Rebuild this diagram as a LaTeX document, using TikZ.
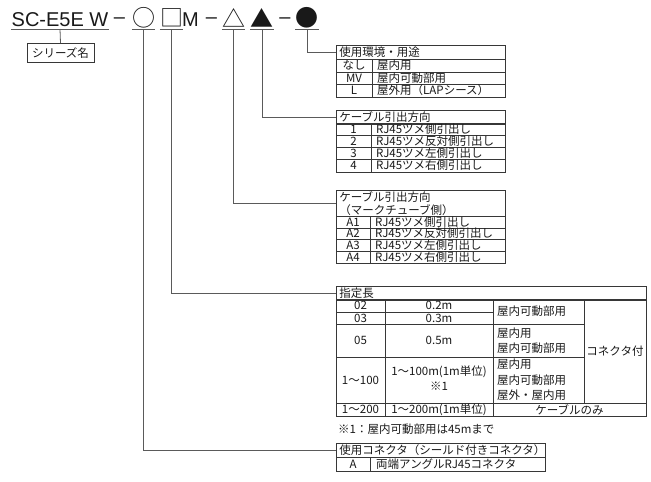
\documentclass[tikz,border=0pt]{standalone}
\usepackage{fontspec}
\setmainfont{Liberation Sans}
\newfontfamily\jpfont{Noto Sans CJK JP}
\usetikzlibrary{positioning, calc}

\definecolor{linegray}{RGB}{90,90,90}
\definecolor{framegray}{RGB}{55,55,55}
\definecolor{textgray}{RGB}{25,25,25}

\begin{document}
\begin{tikzpicture}[
    x=1pt, y=-1pt,
    every node/.style={inner sep=0pt, text=textgray},
    title/.style={font=\fontsize{20}{20}\selectfont},
    symbol/.style={
        font=\jpfont\fontsize{23}{23}\selectfont,
        minimum width=19,
        minimum height=22
    },
    cell/.style={font=\jpfont\fontsize{11.5}{15.5}\selectfont},
    desc/.style={cell, anchor=west, align=left},
    header/.style={
        cell,
        draw=framegray,
        line width=0.8pt,
        anchor=north west,
        align=left,
        inner xsep=3pt,
        minimum height=14,
        text width=#1
    },
    grid/.style={draw=framegray, line width=0.8pt},
    leader/.style={draw=linegray, line width=0.8pt}
]
\useasboundingbox (0,0) rectangle (651,482);

% Code
\node[title, anchor=base] (title) at (60,26) {SC-E5E W};
\node[title, anchor=base] (dash1) at (119.5,23) {–};
\node[symbol] (circ) at (143.5,18) {○};
\node[symbol] (sq) at (171.5,18) {□};
\node[title, anchor=base] (m) at (190.5,26) {M};
\node[title, anchor=base] (dash2) at (211.5,23) {–};
\node[symbol] (tri) at (233.5,18) {△};
\node[symbol] (ftri) at (262,18) {▲};
\node[title, anchor=base] (dash3) at (285,23) {–};
\node[symbol] (dot) at (307,18) {●};

% Soulignes
\draw[leader] ([yshift=-3pt]title.base west) -- ([yshift=-3pt]title.base east);
\draw[leader] (circ.south west) -- (circ.south east);
\draw[leader] (sq.south west) -- (sq.south east);
\draw[leader] (tri.south west) -- (tri.south east);
\draw[leader] (ftri.south west) -- (ftri.south east);
\draw[leader] (dot.south west) -- (dot.south east);

% Serie
\node[cell, draw=framegray, line width=0.8pt, inner xsep=5pt, minimum height=19] (series) at (60.5,53) {シリーズ名};
\draw[leader] ([yshift=-3pt]title.base) -- (series.north);

% Tableau 1 : environnement
\node[header=163] (h1) at (336,45) {使用環境・用途};
\draw[grid] (336,59) rectangle (505,97);
\draw[grid] (336,72) -- (505,72) (336,84) -- (505,84) (372,59) -- (372,97);
\node[cell] (c11) at (354,65.5) {なし};
\node[desc] (d11) at (377,65.5) {屋内用};
\node[cell] (c12) at (354,78) {MV};
\node[desc] (d12) at (377,78) {屋内可動部用};
\node[cell] (c13) at (354,90.5) {L};
\node[desc] (d13) at (377,90.5) {屋外用（LAPシース）};

% Tableau 2 : sortie de cable
\node[header=163] (h2) at (336,110) {ケーブル引出方向};
\draw[grid] (336,123) rectangle (505,172);
\draw[grid] (336,135) -- (505,135) (336,147) -- (505,147) (336,159) -- (505,159) (371,123) -- (371,172);
\node[cell] (c21) at (353.5,129) {1};
\node[desc] (d21) at (376,129) {RJ45ツメ側引出し};
\node[cell] (c22) at (353.5,141) {2};
\node[desc] (d22) at (376,141) {RJ45ツメ反対側引出し};
\node[cell] (c23) at (353.5,153) {3};
\node[desc] (d23) at (376,153) {RJ45ツメ左側引出し};
\node[cell] (c24) at (353.5,165.5) {4};
\node[desc] (d24) at (376,165.5) {RJ45ツメ右側引出し};

% Tableau 3 : sortie de cable (cote marque)
\node[header=163, minimum height=26, font=\jpfont\fontsize{11.5}{13.5}\selectfont] (h3) at (336,190) {ケーブル引出方向\\（マークチューブ側）};
\draw[grid] (336,216) rectangle (505,263);
\draw[grid] (336,228) -- (505,228) (336,239) -- (505,239) (336,251) -- (505,251) (370,216) -- (370,263);
\node[cell] (c31) at (353,222) {A1};
\node[desc] (d31) at (375,222) {RJ45ツメ側引出し};
\node[cell] (c32) at (353,233.5) {A2};
\node[desc] (d32) at (375,233.5) {RJ45ツメ反対側引出し};
\node[cell] (c33) at (353,245) {A3};
\node[desc] (d33) at (375,245) {RJ45ツメ左側引出し};
\node[cell] (c34) at (353,257) {A4};
\node[desc] (d34) at (375,257) {RJ45ツメ右側引出し};

% Tableau 4 : longueur
\node[header=304] (h4) at (336,286) {指定長};
\draw[grid] (336,299) rectangle (646,416);
\draw[grid] (336,312) -- (493,312) (336,324) -- (584,324) (336,357) -- (584,357) (336,403) -- (646,403);
\draw[grid] (385,299) -- (385,416) (493,299) -- (493,416) (584,299) -- (584,403);
\node[cell] (c41) at (360.5,305.5) {02};
\node[cell] (l41) at (439,305.5) {0.2m};
\node[cell] (c42) at (360.5,318) {03};
\node[cell] (l42) at (439,318) {0.3m};
\node[desc] (u42) at (497,311.5) {屋内可動部用};
\node[cell] (c43) at (360.5,340.5) {05};
\node[cell] (l43) at (439,340.5) {0.5m};
\node[desc] (u43) at (497,340.5) {屋内用\\屋内可動部用};
\node[cell] (c44) at (360.5,380) {1〜100};
\node[cell, align=center] (l44) at (439,378) {1〜100m(1m単位)\\※1};
\node[desc] (u44) at (497,380) {屋内用\\屋内可動部用\\屋外・屋内用};
\node[cell] (conn) at (615,351) {コネクタ付};
\node[cell] (c45) at (360.5,409.5) {1〜200};
\node[cell] (l45) at (439,409.5) {1〜200m(1m単位)};
\node[cell] (u45) at (569.5,409.5) {ケーブルのみ};
\node[desc] (note) at (338,429) {※1：屋内可動部用は45mまで};

% Tableau 5 : connecteur
\node[header=203] (h5) at (336,443) {使用コネクタ（シールド付きコネクタ）};
\draw[grid] (336,457) rectangle (545,471);
\draw[grid] (370,457) -- (370,471);
\node[cell] (c51) at (353,464) {A};
\node[desc] (d51) at (376,464) {両端アングルRJ45コネクタ};

% Renvois
\draw[leader] (dot.south) |- (h1.west);
\draw[leader] (ftri.south) |- (h2.west);
\draw[leader] (tri.south) |- (h3.west);
\draw[leader] (sq.south) |- (h4.west);
\draw[leader] (circ.south) |- (h5.west);

\end{tikzpicture}
\end{document}
